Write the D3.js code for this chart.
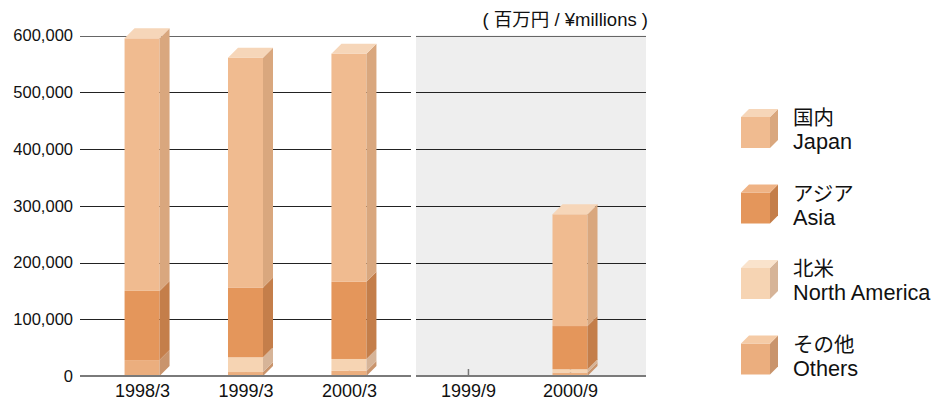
<!DOCTYPE html>
<html>
<head>
<meta charset="utf-8">
<script src="https://cdn.jsdelivr.net/npm/d3@7"></script>
<style>
  html, body { margin: 0; padding: 0; background: #fff; }
  svg { display: block; font-family: "Liberation Sans", Arial, "Noto Sans CJK JP", sans-serif; }
</style>
</head>
<body>
<svg id="chart" width="935" height="402"></svg>
<script>
// ---- data ----
const leftCategories = ["1998/3", "1999/3", "2000/3"];
const rightCategories = ["1999/9", "2000/9"];
const categories = leftCategories.concat(rightCategories);
const japan        = [445000, 405000, 402000, 0, 197000];
const asia         = [122000, 123000, 136000, 0, 76000];
const northAmerica = [0,      26000,  21000,  0, 6000];
const others       = [28000,  7000,   9000,   0, 6000];
const yTicks = [0, 100000, 200000, 300000, 400000, 500000, 600000];
const seriesNames = ["国内", "アジア", "北米", "その他"];
const seriesNamesEn = ["Japan", "Asia", "North America", "Others"];
const unitLabel = "( 百万円 / ¥millions )";

// stacking order bottom -> top
const stackKeys = ["others", "northAmerica", "asia", "japan"];
const seriesValues = { japan, asia, northAmerica, others };
const colors = {
  japan:        { front: "#F0BB90", side: "#D9A77E", top: "#F6D6B9" },
  asia:         { front: "#E4965B", side: "#C47E4A", top: "#EFB385" },
  northAmerica: { front: "#F6D4B3", side: "#D6B498", top: "#FAE3CC" },
  others:       { front: "#EBAE7E", side: "#C9946C", top: "#F5CBA6" }
};
const legendKeys = ["japan", "asia", "northAmerica", "others"];

const svg = d3.select("#chart");
const y = d3.scaleLinear().domain([0, 600000]).range([376, 35.5]);
const leftPanel = [80, 411], rightPanel = [416, 646];
const xLeft = d3.scalePoint().domain(leftCategories).range(leftPanel).padding(0.6).align(0.5);
const xRight = d3.scalePoint().domain(rightCategories).range(rightPanel).padding(0.627).align(0.406);
const xPos = c => leftCategories.includes(c) ? xLeft(c) : xRight(c);

// right panel background
svg.append("rect")
  .attr("x", rightPanel[0]).attr("y", y(600000))
  .attr("width", rightPanel[1] - rightPanel[0]).attr("height", y(0) - y(600000))
  .attr("fill", "#EEEEEE");

// gridlines
[leftPanel, rightPanel].forEach(p => {
  svg.append("g").selectAll("line").data(yTicks.filter(d => d > 0)).join("line")
    .attr("x1", p[0]).attr("x2", p[1])
    .attr("y1", d => Math.round(y(d)) + 0.5).attr("y2", d => Math.round(y(d)) + 0.5)
    .attr("stroke", d => d === 600000 ? "#666" : "#222").attr("stroke-width", 1);
});

// y axis labels
const yAxis = svg.append("g").attr("transform", "translate(80,0)")
  .call(d3.axisLeft(y).tickValues(yTicks).tickSize(0).tickPadding(7).tickFormat(d3.format(",")));
yAxis.select(".domain").remove();
yAxis.selectAll("text").attr("font-size", 16.5).attr("fill", "#111")
  .attr("font-family", "\"Liberation Sans\", Arial, sans-serif");

// x axes
function drawX(scale) {
  const g = svg.append("g").attr("transform", `translate(0,${y(0)})`)
    .call(d3.axisBottom(scale).tickSizeInner(-7).tickSizeOuter(0).tickPadding(8));
  g.select(".domain").remove();
  g.selectAll(".tick line").attr("stroke", "#777").attr("stroke-width", 1.5);
  g.selectAll("text").attr("font-size", 18).attr("fill", "#111")
    .attr("font-family", "\"Liberation Sans\", Arial, sans-serif");
}
drawX(xLeft);
drawX(xRight);

// bars
const bw = 35, dx = 10, dy = 10;
const barsG = svg.append("g");
categories.forEach((c, i) => {
  const cx = xPos(c);
  const x0 = cx - bw / 2, x1 = cx + bw / 2;
  let acc = 0;
  const segs = [];
  stackKeys.forEach(k => {
    const v = seriesValues[k][i];
    if (v > 0) { segs.push({ k, y0: acc, y1: acc + v }); acc += v; }
  });
  segs.forEach((s, j) => {
    const yb = y(s.y0), yt = y(s.y1);
    const col = colors[s.k];
    barsG.append("rect").attr("x", x0).attr("y", yt).attr("width", bw).attr("height", yb - yt)
      .attr("fill", col.front);
    barsG.append("path")
      .attr("d", `M${x1},${yb}L${x1 + dx},${yb - dy}L${x1 + dx},${yt - dy}L${x1},${yt}Z`)
      .attr("fill", col.side);
    if (j === segs.length - 1) {
      barsG.append("path")
        .attr("d", `M${x0},${yt}L${x0 + dx},${yt - dy}L${x1 + dx},${yt - dy}L${x1},${yt}Z`)
        .attr("fill", col.top);
    }
  });
});

// bottom axis lines
[leftPanel, rightPanel].forEach(p => {
  svg.append("line").attr("x1", p[0]).attr("x2", p[1])
    .attr("y1", y(0)).attr("y2", y(0)).attr("stroke", "#7a7a7a").attr("stroke-width", 2);
});

// unit label
svg.append("text").attr("x", 648).attr("y", 26).attr("text-anchor", "end")
  .attr("font-size", 18.5).attr("fill", "#111").text(unitLabel);

// legend
const lg = svg.append("g");
const ldx = 8, ldy = 8, lw = 29, lh = 31;
legendKeys.forEach((k, i) => {
  const top = 109 + i * 75.5;
  const fx = 741, fy = top + ldy;
  const col = colors[k];
  lg.append("rect").attr("x", fx).attr("y", fy).attr("width", lw).attr("height", lh).attr("fill", col.front);
  lg.append("path").attr("d", `M${fx + lw},${fy}L${fx + lw + ldx},${fy - ldy}L${fx + lw + ldx},${fy + lh - ldy}L${fx + lw},${fy + lh}Z`)
    .attr("fill", col.side);
  lg.append("path").attr("d", `M${fx},${fy}L${fx + ldx},${fy - ldy}L${fx + lw + ldx},${fy - ldy}L${fx + lw},${fy}Z`)
    .attr("fill", col.top);
  lg.append("text").attr("x", 793).attr("y", top + 16).attr("font-size", 20.5).attr("fill", "#111")
    .attr("font-family", "\"Noto Sans CJK JP\", sans-serif").text(seriesNames[i]);
  lg.append("text").attr("x", 793).attr("y", top + 40).attr("font-size", 21.7).attr("fill", "#111")
    .text(seriesNamesEn[i]);
});
</script>
</body>
</html>
